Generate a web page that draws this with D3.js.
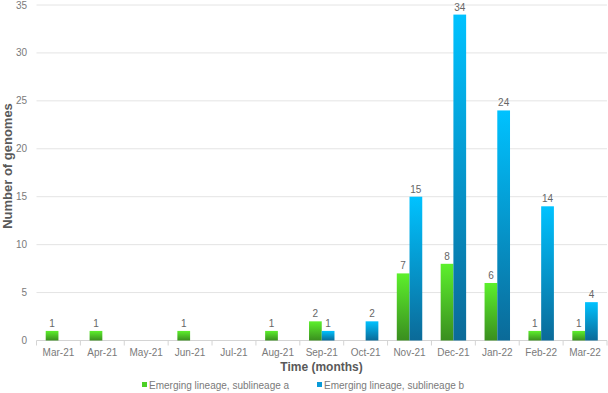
<!DOCTYPE html>
<html>
<head>
<meta charset="utf-8">
<script src="https://cdn.jsdelivr.net/npm/d3@7"></script>
<style>
  body { margin: 0; background: #fff; }
  svg { display: block; font-family: "Liberation Sans", Arial, sans-serif; }
</style>
</head>
<body>
<div id="canvas"></div>
<script>
"use strict"

let svgWidth = 608;
let svgHeight = 393;

/* data */
let months = ["Mar-21", "Apr-21", "May-21", "Jun-21", "Jul-21", "Aug-21", "Sep-21",
              "Oct-21", "Nov-21", "Dec-21", "Jan-22", "Feb-22", "Mar-22"];
let sublineageA = [1, 1, 0, 1, 0, 1, 2, 0, 7, 8, 6, 1, 1];
let sublineageB = [0, 0, 0, 0, 0, 0, 1, 2, 15, 34, 24, 14, 4];
let seriesNames = ["Emerging lineage, sublineage a", "Emerging lineage, sublineage b"];
let yTicks = [0, 5, 10, 15, 20, 25, 30, 35];

let plot = {left: 36.5, right: 607, top: 5, bottom: 340.5};

let svg = d3.select("#canvas")
    .append("svg")
    .attr("width", svgWidth)
    .attr("height", svgHeight);

/* gradients for bars */
let defs = svg.append("defs");
let gradColors = [
    {id: "gradA", top: "#5cf02c", bottom: "#3a8e1f"},
    {id: "gradB", top: "#00c2ff", bottom: "#0b6a98"}
];
gradColors.forEach(function(g){
    let lg = defs.append("linearGradient")
        .attr("id", g.id)
        .attr("x1", 0).attr("y1", 0)
        .attr("x2", 0).attr("y2", 1);
    lg.append("stop").attr("offset", "0%").attr("stop-color", g.top);
    lg.append("stop").attr("offset", "100%").attr("stop-color", g.bottom);
});

/* scales */
let xScale = d3.scaleBand()
    .domain(months)
    .range([plot.left, plot.right])
    .paddingInner(0.42)
    .paddingOuter(0.21);

let step = xScale.step();

let xSub = d3.scaleBand()
    .domain([0, 1])
    .range([0, xScale.bandwidth()]);

let yScale = d3.scaleLinear()
    .domain([0, 35])
    .range([plot.bottom, plot.top]);

/* gridlines */
svg.append("g")
    .selectAll("line")
    .data(yTicks.filter(d => d > 0))
    .join("line")
    .attr("x1", plot.left)
    .attr("x2", plot.right)
    .attr("y1", d => yScale(d))
    .attr("y2", d => yScale(d))
    .attr("stroke", "#e4e4e4")
    .attr("stroke-width", 1);

/* y tick labels */
svg.append("g")
    .selectAll("text")
    .data(yTicks)
    .join("text")
    .attr("x", 27)
    .attr("y", d => yScale(d))
    .attr("dy", "0.35em")
    .attr("text-anchor", "end")
    .attr("font-size", 10)
    .attr("fill", "#7a7a7a")
    .text(d => d);

/* x axis line + ticks between categories */
svg.append("line")
    .attr("x1", plot.left)
    .attr("x2", plot.right)
    .attr("y1", plot.bottom)
    .attr("y2", plot.bottom)
    .attr("stroke", "#d4d4d4");

let boundaries = d3.range(months.length + 1).map(i => plot.left + i * step);
svg.append("g")
    .selectAll("line")
    .data(boundaries)
    .join("line")
    .attr("x1", d => d)
    .attr("x2", d => d)
    .attr("y1", plot.bottom)
    .attr("y2", plot.bottom + 5)
    .attr("stroke", "#d4d4d4");

svg.append("g")
    .selectAll("text")
    .data(months)
    .join("text")
    .attr("x", d => xScale(d) + xScale.bandwidth() / 2)
    .attr("y", 355.5)
    .attr("text-anchor", "middle")
    .attr("font-size", 10)
    .attr("fill", "#7a7a7a")
    .text(d => d);

/* bars */
let seriesData = [sublineageA, sublineageB];
seriesData.forEach(function(values, s){
    let rows = months.map((m, i) => ({month: m, value: values[i]})).filter(d => d.value > 0);
    let g = svg.append("g");
    g.selectAll("rect")
        .data(rows)
        .join("rect")
        .attr("x", d => xScale(d.month) + xSub(s))
        .attr("y", d => yScale(d.value))
        .attr("width", xSub.bandwidth())
        .attr("height", d => yScale(0) - yScale(d.value))
        .attr("fill", "url(#" + gradColors[s].id + ")");
    g.selectAll("text")
        .data(rows)
        .join("text")
        .attr("x", d => xScale(d.month) + xSub(s) + xSub.bandwidth() / 2)
        .attr("y", d => yScale(d.value) - 4)
        .attr("text-anchor", "middle")
        .attr("font-size", 10)
        .attr("fill", "#666")
        .text(d => d.value);
});

/* axis titles */
svg.append("text")
    .attr("x", 321.5)
    .attr("y", 371)
    .attr("text-anchor", "middle")
    .attr("font-size", 12)
    .attr("font-weight", "bold")
    .attr("fill", "#595959")
    .text("Time (months)");

svg.append("text")
    .attr("transform", "rotate(-90)")
    .attr("x", -166)
    .attr("y", 12)
    .attr("text-anchor", "middle")
    .attr("font-size", 13)
    .attr("font-weight", "bold")
    .attr("fill", "#595959")
    .text("Number of genomes");

/* legend */
let legendX = [142, 317];
seriesNames.forEach(function(name, i){
    svg.append("rect")
        .attr("x", legendX[i])
        .attr("y", 382)
        .attr("width", 5)
        .attr("height", 5)
        .attr("fill", i === 0 ? "#4cd026" : "#0a9ad8");
    svg.append("text")
        .attr("x", legendX[i] + 7)
        .attr("y", 388.5)
        .attr("font-size", 10)
        .attr("fill", "#7a7a7a")
        .text(name);
});
</script>
</body>
</html>
